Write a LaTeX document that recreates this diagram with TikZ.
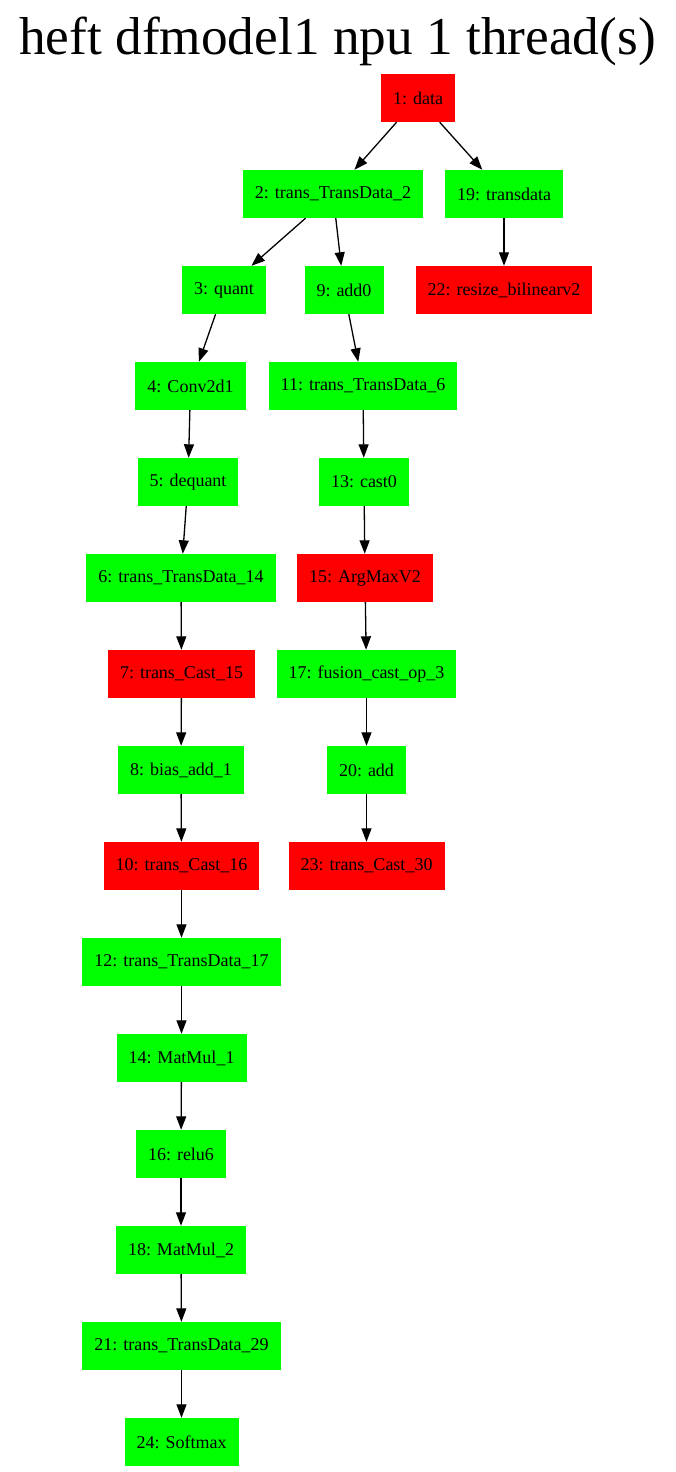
\documentclass[tikz,border=0pt]{standalone}
\usepackage{fontspec}
\setmainfont{Liberation Serif}
\usetikzlibrary{arrows.meta}
\definecolor{opred}{HTML}{FF0000}
\definecolor{opgreen}{HTML}{00FF00}
\tikzset{
  op/.style={rectangle, draw=none, minimum height=48pt, minimum width=74pt,
    inner xsep=12pt, inner ysep=0pt, font=\fontsize{18}{20}\selectfont, text=black},
  cpu/.style={op, fill=opred},
  npu/.style={op, fill=opgreen},
  flow/.style={draw=black, line width=1.3pt, -{Triangle[length=13.5pt,width=10pt]}}
}
\begin{document}
\begin{tikzpicture}[x=1pt,y=-1pt]
\useasboundingbox (0,0) rectangle (675,1472);
\fill[white] (0,0) rectangle (675,1472);
\node[anchor=base, inner sep=0pt, font=\fontsize{53.3}{60}\selectfont] (title) at (337.5,55) {heft dfmodel1 npu 1 thread(s)};

% left-hand chain
\node[cpu] (n1)  at (418,98)    {1: data};
\node[npu] (n2)  at (333,194)   {2: trans\_TransData\_2};
\node[npu] (n3)  at (224,290)   {3: quant};
\node[npu] (n4)  at (190.5,386) {4: Conv2d1};
\node[npu] (n5)  at (188,482)   {5: dequant};
\node[npu] (n6)  at (181,578)   {6: trans\_TransData\_14};
\node[cpu] (n7)  at (181.5,674) {7: trans\_Cast\_15};
\node[npu] (n8)  at (181,770)   {8: bias\_add\_1};
\node[cpu] (n10) at (181.5,866) {10: trans\_Cast\_16};
\node[npu] (n12) at (181.5,962) {12: trans\_TransData\_17};
\node[npu] (n14) at (181.5,1058){14: MatMul\_1};
\node[npu] (n16) at (181,1154)  {16: relu6};
\node[npu] (n18) at (181,1250)  {18: MatMul\_2};
\node[npu] (n21) at (181.5,1346){21: trans\_TransData\_29};
\node[npu] (n24) at (181.5,1442){24: Softmax};

% middle chain
\node[npu] (n9)  at (344,290)   {9: add0};
\node[npu] (n11) at (363,386)   {11: trans\_TransData\_6};
\node[npu] (n13) at (364,482)   {13: cast0};
\node[cpu] (n15) at (365,578)   {15: ArgMaxV2};
\node[npu] (n17) at (366.5,674) {17: fusion\_cast\_op\_3};
\node[npu] (n20) at (366.5,770) {20: add};
\node[cpu] (n23) at (366.5,866) {23: trans\_Cast\_30};

% right-hand chain
\node[npu] (n19) at (504,194)   {19: transdata};
\node[cpu] (n22) at (504,290)   {22: resize\_bilinearv2};

% dependencies
\draw[flow] (n1) -- (n2);
\draw[flow] (n1) -- (n19);
\draw[flow] (n19) -- (n22);
\draw[flow] (n2) -- (n3);
\draw[flow] (n2) -- (n9);
\draw[flow] (n3) -- (n4);
\draw[flow] (n4) -- (n5);
\draw[flow] (n5) -- (n6);
\draw[flow] (n6) -- (n7);
\draw[flow] (n7) -- (n8);
\draw[flow] (n8) -- (n10);
\draw[flow] (n10) -- (n12);
\draw[flow] (n12) -- (n14);
\draw[flow] (n14) -- (n16);
\draw[flow] (n16) -- (n18);
\draw[flow] (n18) -- (n21);
\draw[flow] (n21) -- (n24);
\draw[flow] (n9) -- (n11);
\draw[flow] (n11) -- (n13);
\draw[flow] (n13) -- (n15);
\draw[flow] (n15) -- (n17);
\draw[flow] (n17) -- (n20);
\draw[flow] (n20) -- (n23);
\end{tikzpicture}
\end{document}
